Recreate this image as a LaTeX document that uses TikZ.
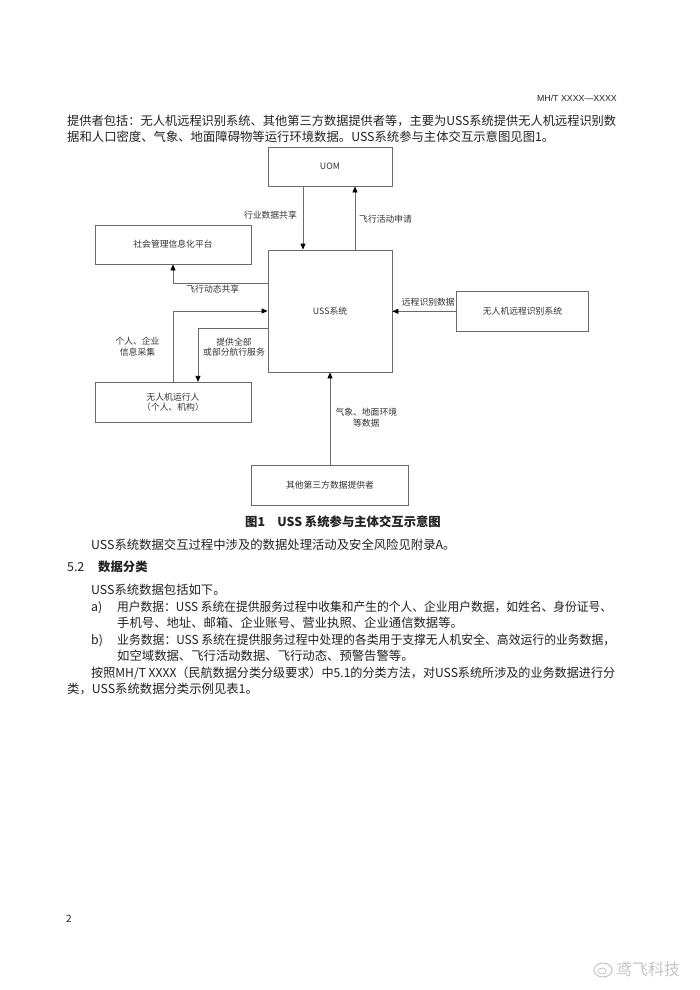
\documentclass[tikz,border=0pt]{standalone}
\usepackage{fontspec}
\usepackage{graphicx}
\setmainfont{Noto Sans CJK SC}
\newfontfamily\hdrfont{Liberation Sans}
\usetikzlibrary{arrows.meta}
\definecolor{linegray}{HTML}{6A6A6A}
\definecolor{txt}{HTML}{222222}
\definecolor{lbl}{HTML}{333333}
\definecolor{wm}{HTML}{C4C4C4}
\newsavebox\fitbox
\newlength\fitlen
\newcommand{\fitw}[2]{\sbox\fitbox{#2}\setlength\fitlen{\wd\fitbox}\pgfmathsetmacro\fitr{#1/\fitlen}\scalebox{\fitr}[1]{\usebox\fitbox}}
\tikzset{
  bodyl/.style={anchor=base west, inner sep=0pt, text=txt, font=\fontsize{12.35}{16}\selectfont},
  boxn/.style={draw=linegray, line width=0.8pt, inner sep=0pt, text=lbl, font=\fontsize{8.8}{10.5}\selectfont, align=center},
  lab/.style={inner sep=0pt, text=lbl, font=\fontsize{8.8}{10.5}\selectfont, align=center},
  arr/.style={draw=linegray, line width=0.8pt, -{Triangle[length=6pt,width=5pt,fill=black,color=black]}}
}
\begin{document}
\begin{tikzpicture}[x=1pt,y=-1pt]
\useasboundingbox[fill=white] (0,0) rectangle (700,990);

% header
\node[anchor=east, inner sep=0pt, text=txt, font=\hdrfont\fontsize{8.8}{10}\selectfont] (hdr) at (617,98.5) {MH/T XXXX—XXXX};

% top paragraph
\node[bodyl] (p1) at (67,125.5) {\fitw{549}{提供者包括：无人机远程识别系统、其他第三方数据提供者等，主要为USS系统提供无人机远程识别数}};
\node[bodyl] (p2) at (67,141.2) {据和人口密度、气象、地面障碍物等运行环境数据。USS系统参与主体交互示意图见图1。};

% boxes
\node[boxn, minimum width=124pt, minimum height=39pt] (uom) at (330,166.5) {UOM};
\node[boxn, minimum width=156pt, minimum height=39pt] (shp) at (173,244.5) {社会管理信息化平台};
\node[boxn, minimum width=124pt, minimum height=122pt] (uss) at (330,311) {USS系统};
\node[boxn, minimum width=131.6pt, minimum height=39.3pt] (rid) at (522.5,311.3) {无人机远程识别系统};
\node[boxn, minimum width=156pt, minimum height=40pt] (op) at (173,402.3) {无人机运行人\\（个人、机构）};
\node[boxn, minimum width=156.6pt, minimum height=40pt] (tp) at (330,485) {其他第三方数据提供者};

% connectors
\draw[arr] ([xshift=-27pt]uom.south) -- ([xshift=-27pt]uss.north);
\draw[arr] ([xshift=25pt]uss.north) -- ([xshift=25pt]uom.south);
\draw[arr] ([yshift=28pt]uss.west) -| (shp.south);
\draw[arr] (op.north) |- (uss.west);
\draw[arr] ([yshift=-17pt]uss.west) -| ([xshift=25pt]op.north);
\draw[arr] (rid.west) -- (rid.west -| uss.east);
\draw[arr] (tp.north) -- (uss.south);

% connector labels
\node[lab, anchor=east] (l1) at (297,215) {行业数据共享};
\node[lab, anchor=west] (l2) at (359,219) {飞行活动申请};
\node[lab] (l3) at (212.8,289.3) {飞行动态共享};
\node[lab] (l4) at (428.3,301.7) {远程识别数据};
\node[lab] (l5) at (137.5,346.7) {个人、企业\\信息采集};
\node[lab] (l6) at (234,347) {提供全部\\或部分航行服务};
\node[lab] (l7) at (366.3,417.5) {气象、地面环境\\等数据};

% caption
\node[anchor=base, inner sep=0pt, text=txt, font=\fontsize{12.35}{16}\selectfont\bfseries] (cap) at (343,526.4) {图1\hspace{1em}USS 系统参与主体交互示意图};

% following text
\node[bodyl] (q1) at (91,549.7) {USS系统数据交互过程中涉及的数据处理活动及安全风险见附录A。};
\node[bodyl] (h52) at (67,571.7) {5.2};
\node[bodyl, font=\fontsize{12.35}{16}\selectfont\bfseries] (h52t) at (98,571.7) {数据分类};
\node[bodyl] (q2) at (91,594.7) {USS系统数据包括如下。};
\node[bodyl] (qa) at (91,611.2) {a)};
\node[bodyl] (qa1) at (117,611.2) {\fitw{495}{用户数据：USS 系统在提供服务过程中收集和产生的个人、企业用户数据，如姓名、身份证号、}};
\node[bodyl] (qa2) at (117,627.7) {手机号、地址、邮箱、企业账号、营业执照、企业通信数据等。};
\node[bodyl] (qb) at (91,644.2) {b)};
\node[bodyl] (qb1) at (117,644.2) {\fitw{498}{业务数据：USS 系统在提供服务过程中处理的各类用于支撑无人机安全、高效运行的业务数据，}};
\node[bodyl] (qb2) at (117,660.7) {如空域数据、飞行活动数据、飞行动态、预警告警等。};
\node[bodyl] (qc1) at (91,677.2) {\fitw{524}{按照MH/T XXXX（民航数据分类分级要求）中5.1的分类方法，对USS系统所涉及的业务数据进行分}};
\node[bodyl] (qc2) at (67,693.7) {类，USS系统数据分类示例见表1。};

% page number
\node[anchor=base west, inner sep=0pt, text=txt, font=\fontsize{10}{12}\selectfont] (pg) at (66,922) {2};

% watermark
\draw[wm, line width=1pt] (603,970) ellipse (9pt and 7pt);
\draw[wm, line width=0.8pt] (602,971) ellipse (4pt and 3pt);
\node[anchor=west, inner sep=0pt, text=wm, font=\fontsize{16}{18}\selectfont] (wmk) at (616,969) {鸢飞科技};
\end{tikzpicture}
\end{document}
